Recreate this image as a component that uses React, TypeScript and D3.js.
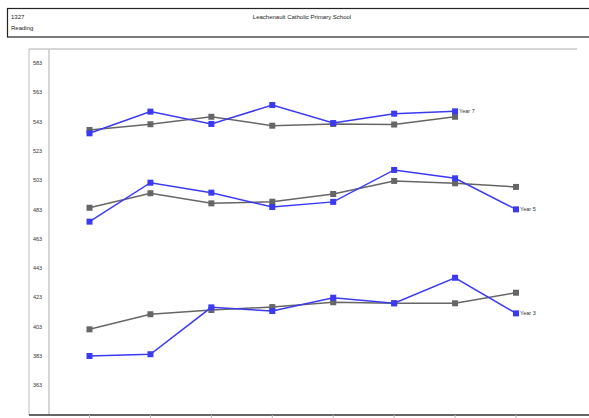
import React from "react";
import * as d3 from "d3";

const schoolCode = "1327";
const subject = "Reading";
const schoolName = "Leachenault Catholic Primary School";

const xSlots = [0, 1, 2, 3, 4, 5, 6, 7];
const yTicks = [363, 383, 403, 423, 443, 463, 483, 503, 523, 543, 563, 583];

const year7State = [537.3, 541.2, 546.3, 540.2, 541.4, 541.0, 546.3];
const year7School = [535.0, 549.8, 541.4, 554.3, 542.0, 548.4, 550.0];
const year5State = [484.2, 494.1, 487.2, 488.3, 493.6, 502.5, 500.9, 498.4];
const year5School = [474.7, 501.3, 494.5, 484.7, 488.2, 510.0, 504.3, 483.1];
const year3State = [401.2, 411.5, 414.4, 416.4, 419.7, 419.0, 419.0, 426.2];
const year3School = [383.0, 384.2, 416.2, 413.7, 422.8, 419.0, 436.4, 412.1];

const seriesList = [
  { values: year7State, kind: "state", label: "" },
  { values: year5State, kind: "state", label: "" },
  { values: year3State, kind: "state", label: "" },
  { values: year7School, kind: "school", label: "Year 7" },
  { values: year5School, kind: "school", label: "Year 5" },
  { values: year3School, kind: "school", label: "Year 3" },
];

const W = 589;
const H = 418;
const GREY = "#666666";
const BLUE = "#3a3af5";
const FONT = "'Liberation Sans', Arial, sans-serif";

export default function App() {
  const x = d3.scaleLinear().domain([0, 7]).range([89.5, 516]);
  const y = d3.scaleLinear().domain([383, 583]).range([356, 63]);
  const yTop = 49;
  const yBottom = 415;
  const line = d3
    .line<number>()
    .x((_, i) => x(i))
    .y((d) => y(d));

  return (
    <svg
      width={W}
      height={H}
      style={{ position: "fixed", left: 0, top: 0, background: "#fff" }}
      fontFamily={FONT}
    >
      <rect x={0} y={0} width={W} height={H} fill="#fff" />
      {/* header box */}
      <rect x={7.5} y={8.5} width={W} height={28.5} fill="none" stroke="#222" strokeWidth={1.2} />
      <text x={11} y={19} fontSize={6} fill="#222">{schoolCode}</text>
      <text x={11} y={30} fontSize={6} fill="#222">{subject}</text>
      <text x={302} y={19} fontSize={6} fill="#222" textAnchor="middle">{schoolName}</text>

      {/* chart frame */}
      <line x1={29} x2={577} y1={yTop} y2={yTop} stroke="#c8c8c8" strokeWidth={1.5} />
      <line x1={29} x2={29} y1={yTop} y2={yBottom} stroke="#c8c8c8" strokeWidth={1.2} />
      <line x1={49} x2={49} y1={yTop} y2={yBottom} stroke="#c8c8c8" strokeWidth={1.5} />
      <line x1={29} x2={W} y1={yBottom} y2={yBottom} stroke="#333" strokeWidth={1.3} />

      {/* x ticks */}
      {xSlots.map((s) => (
        <line key={s} x1={x(s)} x2={x(s)} y1={yBottom} y2={yBottom + 3} stroke="#bbb" strokeWidth={1} />
      ))}

      {/* y tick labels */}
      {yTicks.map((t) => (
        <text key={t} x={33} y={y(t) + 2} fontSize={5.5} fill="#333">{t}</text>
      ))}

      {/* series */}
      {seriesList.map((s, si) => {
        const color = s.kind === "state" ? GREY : BLUE;
        const last = s.values.length - 1;
        return (
          <g key={si}>
            <path d={line(s.values) || ""} fill="none" stroke={color} strokeWidth={1.5} />
            {s.values.map((v, i) => (
              <rect key={i} x={x(i) - 3} y={y(v) - 3} width={6} height={6} fill={color} />
            ))}
            {s.label && (
              <text x={x(last) + 4} y={y(s.values[last]) + 2} fontSize={5.5} fill="#333">
                {s.label}
              </text>
            )}
          </g>
        );
      })}
    </svg>
  );
}
